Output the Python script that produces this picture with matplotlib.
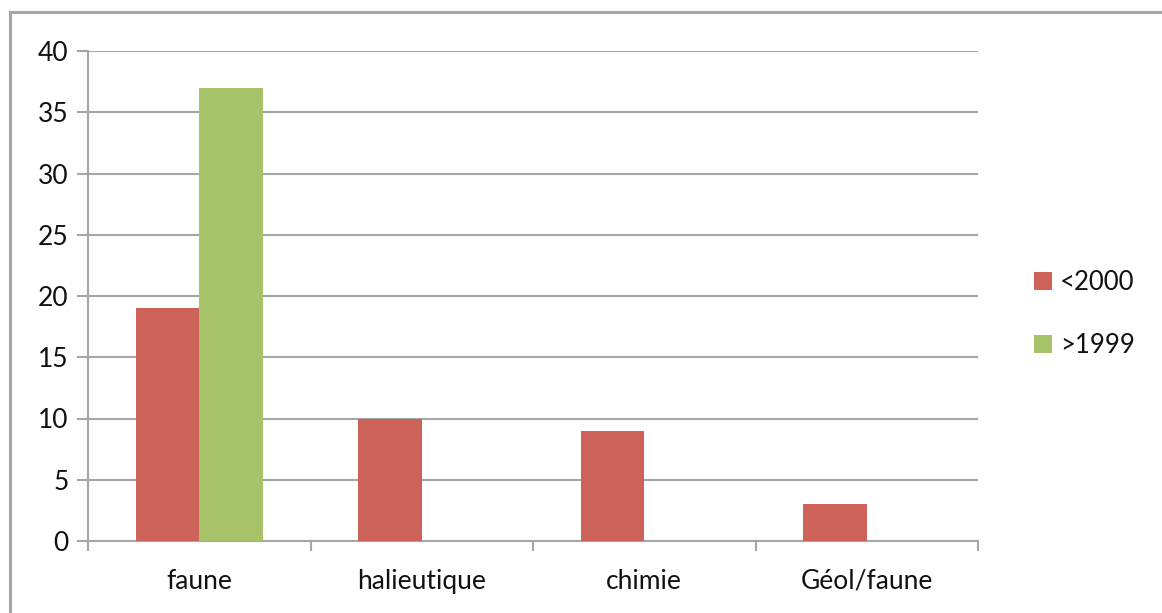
import numpy as np
import matplotlib
matplotlib.use("Agg")
import matplotlib.pyplot as plt
from matplotlib.patches import Rectangle

categories = ["faune", "halieutique", "chimie", "Géol/faune"]
before_2000 = [19, 10, 9, 3]
after_1999 = [37, 0, 0, 0]
series_names = ["<2000", ">1999"]

red = "#CD625B"
green = "#A7C369"
grid_gray = "#A6A6A6"
text_col = "#111111"

plt.rcParams['font.family'] = ['Lato', 'DejaVu Sans']

fig = plt.figure(figsize=(11.62, 6.13), dpi=100)
ax = fig.add_axes([88/1162, 1-541/613, 890/1162, 490/613])

x = np.arange(len(categories))
w = 0.285
ax.bar(x - w/2, before_2000, w, color=red, label=series_names[0], zorder=3)
ax.bar(x + w/2, after_1999, w, color=green, label=series_names[1], zorder=3)

ax.set_xlim(-0.5, len(categories) - 0.5)
ax.set_ylim(0, 40)
ax.set_yticks(range(0, 41, 5))
ax.yaxis.grid(True, color=grid_gray, linewidth=1.5, zorder=0)
ax.set_axisbelow(True)

# category ticks at the boundaries, labels at the centres
ax.set_xticks(np.arange(-0.5, len(categories)), minor=False)
ax.set_xticklabels([])
ax.set_xticks(x, minor=True)
ax.set_xticklabels(categories, minor=True)
ax.tick_params(axis='x', which='major', length=7, width=1.5, color=grid_gray, direction='out')
ax.tick_params(axis='x', which='minor', length=0, pad=20, labelsize=19, labelcolor=text_col)
ax.tick_params(axis='y', length=8, width=1.5, color=grid_gray, labelsize=19, labelcolor=text_col, pad=6)

for side in ['top', 'right']:
    ax.spines[side].set_visible(False)
for side in ['left', 'bottom']:
    ax.spines[side].set_color(grid_gray)
    ax.spines[side].set_linewidth(1.5)

leg = fig.legend(loc='center left', bbox_to_anchor=(1034/1162, 1-314/613), frameon=False,
                 fontsize=18.5, handlelength=0.7, handleheight=0.7, handletextpad=0.3,
                 labelspacing=1.45, borderpad=0, borderaxespad=0)
for t in leg.get_texts():
    t.set_color(text_col)

# chart frame: only left and top edges fall inside the picture
fig.patches.append(Rectangle((10/1162, -0.1), 1.2, 1.1 - 12/613, transform=fig.transFigure,
                             fill=False, edgecolor=grid_gray, linewidth=2.2, clip_on=False))

fig.savefig("out.png", dpi=100)
